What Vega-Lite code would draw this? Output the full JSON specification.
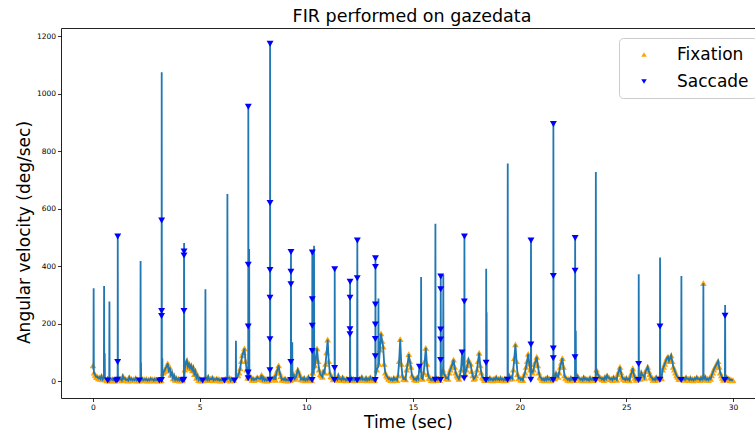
{
"$schema": "https://vega.github.io/schema/vega-lite/v6.json",
"width": 694, "height": 370,
"autosize": {"type": "none"},
"padding": {"left": 61, "top": 28, "right": 0, "bottom": 37},
"background": "white",
"title": {"text": "FIR performed on gazedata", "font": "DejaVu Sans", "fontSize": 17.5, "fontWeight": "normal", "color": "black", "anchor": "middle", "dx": 4, "offset": 3},
"datasets": {"d": [
{"t":0.0,"v":55,"c":"Fixation"},{"t":0.1,"v":22,"c":"Fixation"},{"t":0.2,"v":16,"c":"Fixation"},{"t":0.3,"v":14,"c":"Fixation"},{"t":0.4,"v":18,"c":"Fixation"},{"t":0.5,"v":12,"c":"Fixation"},{"t":0.6,"v":6,"c":"Fixation"},{"t":0.7,"v":9,"c":"Fixation"},{"t":0.8,"v":4,"c":"Fixation"},{"t":0.9,"v":8,"c":"Fixation"},
{"t":1.0,"v":5,"c":"Fixation"},{"t":1.1,"v":7,"c":"Fixation"},{"t":1.2,"v":12,"c":"Fixation"},{"t":1.3,"v":8,"c":"Fixation"},{"t":1.4,"v":18,"c":"Fixation"},{"t":1.5,"v":10,"c":"Fixation"},{"t":1.6,"v":6,"c":"Fixation"},{"t":1.7,"v":14,"c":"Fixation"},{"t":1.8,"v":9,"c":"Fixation"},{"t":1.9,"v":7,"c":"Fixation"},
{"t":2.0,"v":11,"c":"Fixation"},{"t":2.1,"v":6,"c":"Fixation"},{"t":2.2,"v":4,"c":"Fixation"},{"t":2.3,"v":9,"c":"Fixation"},{"t":2.4,"v":7,"c":"Fixation"},{"t":2.5,"v":8,"c":"Fixation"},{"t":2.6,"v":6,"c":"Fixation"},{"t":2.7,"v":9,"c":"Fixation"},{"t":2.8,"v":7,"c":"Fixation"},{"t":2.9,"v":8,"c":"Fixation"},
{"t":3.0,"v":6,"c":"Fixation"},{"t":3.1,"v":5,"c":"Fixation"},{"t":3.2,"v":4,"c":"Fixation"},{"t":3.3,"v":30,"c":"Fixation"},{"t":3.4,"v":45,"c":"Fixation"},{"t":3.5,"v":62,"c":"Fixation"},{"t":3.6,"v":48,"c":"Fixation"},{"t":3.7,"v":30,"c":"Fixation"},{"t":3.8,"v":20,"c":"Fixation"},{"t":3.9,"v":12,"c":"Fixation"},
{"t":4.0,"v":9,"c":"Fixation"},{"t":4.1,"v":6,"c":"Fixation"},{"t":4.2,"v":5,"c":"Fixation"},{"t":4.3,"v":40,"c":"Fixation"},{"t":4.4,"v":72,"c":"Fixation"},{"t":4.5,"v":60,"c":"Fixation"},{"t":4.6,"v":55,"c":"Fixation"},{"t":4.7,"v":48,"c":"Fixation"},{"t":4.8,"v":35,"c":"Fixation"},{"t":4.9,"v":20,"c":"Fixation"},
{"t":5.0,"v":10,"c":"Fixation"},{"t":5.1,"v":5,"c":"Fixation"},{"t":5.2,"v":8,"c":"Fixation"},{"t":5.3,"v":12,"c":"Fixation"},{"t":5.4,"v":16,"c":"Fixation"},{"t":5.5,"v":9,"c":"Fixation"},{"t":5.6,"v":13,"c":"Fixation"},{"t":5.7,"v":7,"c":"Fixation"},{"t":5.8,"v":10,"c":"Fixation"},{"t":5.9,"v":8,"c":"Fixation"},
{"t":6.0,"v":6,"c":"Fixation"},{"t":6.1,"v":5,"c":"Fixation"},{"t":6.2,"v":9,"c":"Fixation"},{"t":6.4,"v":12,"c":"Fixation"},{"t":6.5,"v":8,"c":"Fixation"},{"t":6.6,"v":5,"c":"Fixation"},{"t":6.8,"v":20,"c":"Fixation"},{"t":6.9,"v":45,"c":"Fixation"},
{"t":7.0,"v":90,"c":"Fixation"},{"t":7.1,"v":114,"c":"Fixation"},{"t":7.2,"v":40,"c":"Fixation"},{"t":7.3,"v":20,"c":"Fixation"},{"t":7.4,"v":15,"c":"Fixation"},{"t":7.5,"v":10,"c":"Fixation"},{"t":7.6,"v":8,"c":"Fixation"},{"t":7.7,"v":14,"c":"Fixation"},{"t":7.8,"v":9,"c":"Fixation"},{"t":7.9,"v":22,"c":"Fixation"},
{"t":8.0,"v":12,"c":"Fixation"},{"t":8.1,"v":8,"c":"Fixation"},{"t":8.2,"v":6,"c":"Fixation"},{"t":8.4,"v":10,"c":"Fixation"},{"t":8.5,"v":15,"c":"Fixation"},{"t":8.6,"v":30,"c":"Fixation"},{"t":8.7,"v":55,"c":"Fixation"},{"t":8.8,"v":18,"c":"Fixation"},{"t":8.9,"v":8,"c":"Fixation"},
{"t":9.0,"v":10,"c":"Fixation"},{"t":9.1,"v":6,"c":"Fixation"},{"t":9.2,"v":5,"c":"Fixation"},{"t":9.3,"v":8,"c":"Fixation"},{"t":9.4,"v":25,"c":"Fixation"},{"t":9.5,"v":12,"c":"Fixation"},{"t":9.6,"v":40,"c":"Fixation"},{"t":9.7,"v":20,"c":"Fixation"},{"t":9.8,"v":10,"c":"Fixation"},{"t":9.9,"v":12,"c":"Fixation"},
{"t":10.0,"v":8,"c":"Fixation"},{"t":10.1,"v":15,"c":"Fixation"},{"t":10.2,"v":6,"c":"Fixation"},{"t":10.3,"v":30,"c":"Fixation"},{"t":10.4,"v":55,"c":"Fixation"},{"t":10.5,"v":114,"c":"Fixation"},{"t":10.6,"v":40,"c":"Fixation"},{"t":10.7,"v":20,"c":"Fixation"},{"t":10.8,"v":35,"c":"Fixation"},{"t":10.9,"v":60,"c":"Fixation"},
{"t":11.0,"v":145,"c":"Fixation"},{"t":11.1,"v":30,"c":"Fixation"},{"t":11.2,"v":15,"c":"Fixation"},{"t":11.3,"v":8,"c":"Fixation"},{"t":11.4,"v":10,"c":"Fixation"},{"t":11.5,"v":20,"c":"Fixation"},{"t":11.6,"v":9,"c":"Fixation"},{"t":11.7,"v":14,"c":"Fixation"},{"t":11.8,"v":8,"c":"Fixation"},{"t":11.9,"v":10,"c":"Fixation"},
{"t":12.0,"v":6,"c":"Fixation"},{"t":12.1,"v":12,"c":"Fixation"},{"t":12.2,"v":9,"c":"Fixation"},{"t":12.3,"v":7,"c":"Fixation"},{"t":12.5,"v":10,"c":"Fixation"},{"t":12.6,"v":15,"c":"Fixation"},{"t":12.7,"v":8,"c":"Fixation"},{"t":12.8,"v":12,"c":"Fixation"},{"t":12.9,"v":9,"c":"Fixation"},
{"t":13.0,"v":14,"c":"Fixation"},{"t":13.1,"v":8,"c":"Fixation"},{"t":13.2,"v":5,"c":"Fixation"},{"t":13.3,"v":40,"c":"Fixation"},{"t":13.4,"v":60,"c":"Fixation"},{"t":13.5,"v":166,"c":"Fixation"},{"t":13.6,"v":120,"c":"Fixation"},{"t":13.7,"v":30,"c":"Fixation"},{"t":13.8,"v":15,"c":"Fixation"},{"t":13.9,"v":10,"c":"Fixation"},
{"t":14.0,"v":8,"c":"Fixation"},{"t":14.1,"v":12,"c":"Fixation"},{"t":14.2,"v":9,"c":"Fixation"},{"t":14.3,"v":20,"c":"Fixation"},{"t":14.4,"v":146,"c":"Fixation"},{"t":14.5,"v":20,"c":"Fixation"},{"t":14.6,"v":10,"c":"Fixation"},{"t":14.7,"v":40,"c":"Fixation"},{"t":14.8,"v":94,"c":"Fixation"},{"t":14.9,"v":50,"c":"Fixation"},
{"t":15.0,"v":15,"c":"Fixation"},{"t":15.1,"v":9,"c":"Fixation"},{"t":15.2,"v":14,"c":"Fixation"},{"t":15.3,"v":50,"c":"Saccade"},{"t":15.4,"v":12,"c":"Fixation"},{"t":15.5,"v":30,"c":"Fixation"},{"t":15.6,"v":116,"c":"Fixation"},{"t":15.7,"v":25,"c":"Fixation"},{"t":15.8,"v":10,"c":"Fixation"},{"t":15.9,"v":8,"c":"Fixation"},
{"t":16.0,"v":6,"c":"Fixation"},{"t":16.1,"v":12,"c":"Fixation"},{"t":16.2,"v":9,"c":"Fixation"},{"t":16.4,"v":40,"c":"Fixation"},{"t":16.5,"v":20,"c":"Fixation"},{"t":16.6,"v":12,"c":"Fixation"},{"t":16.7,"v":30,"c":"Fixation"},{"t":16.8,"v":50,"c":"Fixation"},{"t":16.9,"v":75,"c":"Fixation"},
{"t":17.0,"v":30,"c":"Fixation"},{"t":17.1,"v":15,"c":"Fixation"},{"t":17.2,"v":20,"c":"Fixation"},{"t":17.3,"v":100,"c":"Saccade"},{"t":17.5,"v":40,"c":"Fixation"},{"t":17.6,"v":75,"c":"Fixation"},{"t":17.7,"v":60,"c":"Fixation"},{"t":17.8,"v":20,"c":"Fixation"},{"t":17.9,"v":12,"c":"Fixation"},
{"t":18.0,"v":40,"c":"Fixation"},{"t":18.1,"v":99,"c":"Fixation"},{"t":18.2,"v":30,"c":"Fixation"},{"t":18.3,"v":10,"c":"Fixation"},{"t":18.4,"v":6,"c":"Fixation"},{"t":18.5,"v":9,"c":"Fixation"},{"t":18.6,"v":12,"c":"Fixation"},{"t":18.7,"v":8,"c":"Fixation"},{"t":18.8,"v":10,"c":"Fixation"},{"t":18.9,"v":14,"c":"Fixation"},
{"t":19.0,"v":9,"c":"Fixation"},{"t":19.1,"v":12,"c":"Fixation"},{"t":19.2,"v":8,"c":"Fixation"},{"t":19.3,"v":10,"c":"Fixation"},{"t":19.4,"v":6,"c":"Fixation"},{"t":19.5,"v":20,"c":"Fixation"},{"t":19.6,"v":15,"c":"Fixation"},{"t":19.7,"v":40,"c":"Fixation"},{"t":19.8,"v":128,"c":"Fixation"},{"t":19.9,"v":25,"c":"Fixation"},
{"t":20.0,"v":12,"c":"Fixation"},{"t":20.1,"v":9,"c":"Fixation"},{"t":20.2,"v":20,"c":"Fixation"},{"t":20.3,"v":50,"c":"Fixation"},{"t":20.4,"v":95,"c":"Fixation"},{"t":20.5,"v":40,"c":"Fixation"},{"t":20.6,"v":30,"c":"Fixation"},{"t":20.7,"v":60,"c":"Fixation"},{"t":20.8,"v":85,"c":"Fixation"},{"t":20.9,"v":30,"c":"Fixation"},
{"t":21.0,"v":12,"c":"Fixation"},{"t":21.1,"v":8,"c":"Fixation"},{"t":21.2,"v":10,"c":"Fixation"},{"t":21.3,"v":14,"c":"Fixation"},{"t":21.4,"v":9,"c":"Fixation"},{"t":21.5,"v":6,"c":"Fixation"},{"t":21.6,"v":20,"c":"Fixation"},{"t":21.7,"v":30,"c":"Fixation"},{"t":21.8,"v":15,"c":"Fixation"},{"t":21.9,"v":50,"c":"Fixation"},
{"t":22.0,"v":80,"c":"Fixation"},{"t":22.1,"v":20,"c":"Fixation"},{"t":22.2,"v":10,"c":"Fixation"},{"t":22.3,"v":8,"c":"Fixation"},{"t":22.4,"v":12,"c":"Fixation"},{"t":22.5,"v":9,"c":"Fixation"},{"t":22.7,"v":20,"c":"Fixation"},{"t":22.8,"v":10,"c":"Fixation"},{"t":22.9,"v":8,"c":"Fixation"},
{"t":23.0,"v":14,"c":"Fixation"},{"t":23.1,"v":10,"c":"Fixation"},{"t":23.2,"v":8,"c":"Fixation"},{"t":23.3,"v":12,"c":"Fixation"},{"t":23.4,"v":9,"c":"Fixation"},{"t":23.5,"v":6,"c":"Fixation"},{"t":23.6,"v":40,"c":"Fixation"},{"t":23.7,"v":20,"c":"Fixation"},{"t":23.8,"v":12,"c":"Fixation"},{"t":23.9,"v":10,"c":"Fixation"},
{"t":24.0,"v":15,"c":"Fixation"},{"t":24.1,"v":20,"c":"Fixation"},{"t":24.2,"v":12,"c":"Fixation"},{"t":24.3,"v":9,"c":"Fixation"},{"t":24.4,"v":14,"c":"Fixation"},{"t":24.5,"v":10,"c":"Fixation"},{"t":24.6,"v":25,"c":"Fixation"},{"t":24.7,"v":50,"c":"Fixation"},{"t":24.8,"v":15,"c":"Fixation"},{"t":24.9,"v":9,"c":"Fixation"},
{"t":25.0,"v":12,"c":"Fixation"},{"t":25.1,"v":8,"c":"Fixation"},{"t":25.2,"v":20,"c":"Fixation"},{"t":25.3,"v":45,"c":"Fixation"},{"t":25.4,"v":12,"c":"Fixation"},{"t":25.5,"v":6,"c":"Fixation"},{"t":25.6,"v":15,"c":"Fixation"},{"t":25.7,"v":30,"c":"Fixation"},{"t":25.8,"v":20,"c":"Fixation"},{"t":25.9,"v":35,"c":"Fixation"},
{"t":26.0,"v":50,"c":"Fixation"},{"t":26.1,"v":25,"c":"Fixation"},{"t":26.2,"v":12,"c":"Fixation"},{"t":26.3,"v":9,"c":"Fixation"},{"t":26.4,"v":14,"c":"Fixation"},{"t":26.5,"v":8,"c":"Fixation"},{"t":26.6,"v":20,"c":"Fixation"},{"t":26.7,"v":40,"c":"Fixation"},{"t":26.8,"v":60,"c":"Fixation"},{"t":26.9,"v":80,"c":"Fixation"},
{"t":27.0,"v":70,"c":"Fixation"},{"t":27.1,"v":90,"c":"Fixation"},{"t":27.2,"v":50,"c":"Fixation"},{"t":27.3,"v":30,"c":"Fixation"},{"t":27.4,"v":15,"c":"Fixation"},{"t":27.5,"v":8,"c":"Fixation"},{"t":27.6,"v":12,"c":"Fixation"},{"t":27.7,"v":10,"c":"Fixation"},{"t":27.8,"v":14,"c":"Fixation"},{"t":27.9,"v":9,"c":"Fixation"},
{"t":28.0,"v":12,"c":"Fixation"},{"t":28.1,"v":8,"c":"Fixation"},{"t":28.2,"v":10,"c":"Fixation"},{"t":28.3,"v":14,"c":"Fixation"},{"t":28.4,"v":9,"c":"Fixation"},{"t":28.5,"v":12,"c":"Fixation"},{"t":28.7,"v":15,"c":"Fixation"},{"t":28.8,"v":9,"c":"Fixation"},{"t":28.9,"v":12,"c":"Fixation"},
{"t":29.0,"v":20,"c":"Fixation"},{"t":29.1,"v":40,"c":"Fixation"},{"t":29.2,"v":55,"c":"Fixation"},{"t":29.3,"v":70,"c":"Fixation"},{"t":29.4,"v":30,"c":"Fixation"},{"t":29.5,"v":12,"c":"Fixation"},{"t":29.6,"v":8,"c":"Fixation"},{"t":29.7,"v":15,"c":"Fixation"},{"t":29.8,"v":10,"c":"Fixation"},{"t":29.9,"v":6,"c":"Fixation"},{"t":30.0,"v":4,"c":"Fixation"},
{"t":0.05,"v":30,"c":"Fixation"},{"t":0.15,"v":15,"c":"Fixation"},{"t":0.25,"v":10,"c":"Fixation"},{"t":0.35,"v":8,"c":"Fixation"},{"t":0.45,"v":6,"c":"Fixation"},{"t":0.65,"v":3,"c":"Fixation"},{"t":0.75,"v":2,"c":"Fixation"},{"t":0.85,"v":5,"c":"Fixation"},{"t":0.95,"v":3,"c":"Fixation"},
{"t":1.05,"v":2,"c":"Fixation"},{"t":1.25,"v":6,"c":"Fixation"},{"t":1.35,"v":3,"c":"Fixation"},{"t":1.45,"v":8,"c":"Fixation"},{"t":1.55,"v":4,"c":"Fixation"},{"t":1.65,"v":2,"c":"Fixation"},{"t":1.75,"v":5,"c":"Fixation"},{"t":1.85,"v":3,"c":"Fixation"},{"t":1.95,"v":4,"c":"Fixation"},
{"t":2.05,"v":3,"c":"Fixation"},{"t":2.15,"v":2,"c":"Fixation"},{"t":2.35,"v":3,"c":"Fixation"},{"t":2.45,"v":4,"c":"Fixation"},{"t":2.55,"v":2,"c":"Fixation"},{"t":2.65,"v":3,"c":"Fixation"},{"t":2.75,"v":5,"c":"Fixation"},{"t":2.85,"v":2,"c":"Fixation"},{"t":2.95,"v":4,"c":"Fixation"},
{"t":3.05,"v":3,"c":"Fixation"},{"t":3.15,"v":2,"c":"Fixation"},{"t":3.35,"v":35,"c":"Fixation"},{"t":3.45,"v":50,"c":"Fixation"},{"t":3.55,"v":38,"c":"Fixation"},{"t":3.65,"v":22,"c":"Fixation"},{"t":3.75,"v":10,"c":"Fixation"},{"t":3.85,"v":5,"c":"Fixation"},{"t":3.95,"v":4,"c":"Fixation"},
{"t":4.05,"v":2,"c":"Fixation"},{"t":4.15,"v":3,"c":"Fixation"},{"t":4.35,"v":62,"c":"Fixation"},{"t":4.45,"v":50,"c":"Fixation"},{"t":4.55,"v":45,"c":"Fixation"},{"t":4.65,"v":38,"c":"Fixation"},{"t":4.75,"v":25,"c":"Fixation"},{"t":4.85,"v":12,"c":"Fixation"},{"t":4.95,"v":4,"c":"Fixation"},
{"t":5.05,"v":2,"c":"Fixation"},{"t":5.15,"v":3,"c":"Fixation"},{"t":5.35,"v":5,"c":"Fixation"},{"t":5.45,"v":4,"c":"Fixation"},{"t":5.55,"v":7,"c":"Fixation"},{"t":5.65,"v":3,"c":"Fixation"},{"t":5.75,"v":5,"c":"Fixation"},{"t":5.85,"v":4,"c":"Fixation"},{"t":5.95,"v":2,"c":"Fixation"},
{"t":6.05,"v":3,"c":"Fixation"},{"t":6.25,"v":5,"c":"Fixation"},{"t":6.45,"v":2,"c":"Fixation"},{"t":6.55,"v":4,"c":"Fixation"},{"t":6.85,"v":30,"c":"Fixation"},{"t":6.95,"v":70,"c":"Fixation"},
{"t":7.05,"v":100,"c":"Fixation"},{"t":7.15,"v":70,"c":"Fixation"},{"t":7.25,"v":12,"c":"Fixation"},{"t":7.45,"v":5,"c":"Fixation"},{"t":7.55,"v":4,"c":"Fixation"},{"t":7.65,"v":6,"c":"Fixation"},{"t":7.75,"v":10,"c":"Fixation"},{"t":7.85,"v":8,"c":"Fixation"},{"t":7.95,"v":5,"c":"Fixation"},
{"t":8.05,"v":3,"c":"Fixation"},{"t":8.15,"v":2,"c":"Fixation"},{"t":8.25,"v":4,"c":"Fixation"},{"t":8.45,"v":8,"c":"Fixation"},{"t":8.55,"v":5,"c":"Fixation"},{"t":8.65,"v":40,"c":"Fixation"},{"t":8.75,"v":30,"c":"Fixation"},{"t":8.85,"v":5,"c":"Fixation"},{"t":8.95,"v":4,"c":"Fixation"},
{"t":9.05,"v":3,"c":"Fixation"},{"t":9.15,"v":2,"c":"Fixation"},{"t":9.25,"v":4,"c":"Fixation"},{"t":9.45,"v":8,"c":"Fixation"},{"t":9.55,"v":25,"c":"Fixation"},{"t":9.65,"v":30,"c":"Fixation"},{"t":9.75,"v":6,"c":"Fixation"},{"t":9.85,"v":5,"c":"Fixation"},{"t":9.95,"v":3,"c":"Fixation"},
{"t":10.05,"v":4,"c":"Fixation"},{"t":10.15,"v":5,"c":"Fixation"},{"t":10.25,"v":3,"c":"Fixation"},{"t":10.45,"v":80,"c":"Fixation"},{"t":10.55,"v":70,"c":"Fixation"},{"t":10.65,"v":25,"c":"Fixation"},{"t":10.75,"v":15,"c":"Fixation"},{"t":10.85,"v":30,"c":"Fixation"},{"t":10.95,"v":100,"c":"Fixation"},
{"t":11.05,"v":70,"c":"Fixation"},{"t":11.15,"v":18,"c":"Fixation"},{"t":11.25,"v":6,"c":"Fixation"},{"t":11.45,"v":5,"c":"Fixation"},{"t":11.55,"v":8,"c":"Fixation"},{"t":11.65,"v":4,"c":"Fixation"},{"t":11.75,"v":6,"c":"Fixation"},{"t":11.85,"v":3,"c":"Fixation"},{"t":11.95,"v":4,"c":"Fixation"},
{"t":12.15,"v":4,"c":"Fixation"},{"t":12.25,"v":3,"c":"Fixation"},{"t":12.35,"v":5,"c":"Fixation"},{"t":12.45,"v":4,"c":"Fixation"},{"t":12.55,"v":6,"c":"Fixation"},{"t":12.65,"v":5,"c":"Fixation"},{"t":12.75,"v":4,"c":"Fixation"},{"t":12.85,"v":3,"c":"Fixation"},{"t":12.95,"v":5,"c":"Fixation"},
{"t":13.05,"v":6,"c":"Fixation"},{"t":13.15,"v":3,"c":"Fixation"},{"t":13.45,"v":110,"c":"Fixation"},{"t":13.55,"v":140,"c":"Fixation"},{"t":13.65,"v":60,"c":"Fixation"},{"t":13.75,"v":20,"c":"Fixation"},{"t":13.85,"v":8,"c":"Fixation"},{"t":13.95,"v":4,"c":"Fixation"},
{"t":14.05,"v":3,"c":"Fixation"},{"t":14.15,"v":5,"c":"Fixation"},{"t":14.25,"v":4,"c":"Fixation"},{"t":14.35,"v":70,"c":"Fixation"},{"t":14.45,"v":60,"c":"Fixation"},{"t":14.55,"v":8,"c":"Fixation"},{"t":14.65,"v":6,"c":"Fixation"},{"t":14.75,"v":60,"c":"Fixation"},{"t":14.85,"v":70,"c":"Fixation"},{"t":14.95,"v":20,"c":"Fixation"},
{"t":15.05,"v":6,"c":"Fixation"},{"t":15.15,"v":4,"c":"Fixation"},{"t":15.25,"v":8,"c":"Fixation"},{"t":15.45,"v":8,"c":"Fixation"},{"t":15.55,"v":70,"c":"Fixation"},{"t":15.65,"v":60,"c":"Fixation"},{"t":15.75,"v":12,"c":"Fixation"},{"t":15.85,"v":4,"c":"Fixation"},{"t":15.95,"v":3,"c":"Fixation"},
{"t":16.15,"v":5,"c":"Fixation"},{"t":16.25,"v":4,"c":"Fixation"},{"t":16.45,"v":25,"c":"Fixation"},{"t":16.55,"v":10,"c":"Fixation"},{"t":16.65,"v":8,"c":"Fixation"},{"t":16.75,"v":40,"c":"Fixation"},{"t":16.85,"v":60,"c":"Fixation"},{"t":16.95,"v":50,"c":"Fixation"},
{"t":17.05,"v":20,"c":"Fixation"},{"t":17.15,"v":8,"c":"Fixation"},{"t":17.25,"v":40,"c":"Fixation"},{"t":17.45,"v":25,"c":"Fixation"},{"t":17.55,"v":55,"c":"Fixation"},{"t":17.65,"v":65,"c":"Fixation"},{"t":17.75,"v":35,"c":"Fixation"},{"t":17.85,"v":8,"c":"Fixation"},{"t":17.95,"v":20,"c":"Fixation"},
{"t":18.05,"v":70,"c":"Fixation"},{"t":18.15,"v":55,"c":"Fixation"},{"t":18.25,"v":15,"c":"Fixation"},{"t":18.35,"v":4,"c":"Fixation"},{"t":18.55,"v":4,"c":"Fixation"},{"t":18.65,"v":5,"c":"Fixation"},{"t":18.75,"v":3,"c":"Fixation"},{"t":18.85,"v":5,"c":"Fixation"},{"t":18.95,"v":6,"c":"Fixation"},
{"t":19.05,"v":4,"c":"Fixation"},{"t":19.15,"v":5,"c":"Fixation"},{"t":19.25,"v":3,"c":"Fixation"},{"t":19.35,"v":4,"c":"Fixation"},{"t":19.55,"v":8,"c":"Fixation"},{"t":19.65,"v":10,"c":"Fixation"},{"t":19.75,"v":80,"c":"Fixation"},{"t":19.85,"v":70,"c":"Fixation"},{"t":19.95,"v":10,"c":"Fixation"},
{"t":20.05,"v":5,"c":"Fixation"},{"t":20.15,"v":4,"c":"Fixation"},{"t":20.25,"v":30,"c":"Fixation"},{"t":20.35,"v":70,"c":"Fixation"},{"t":20.45,"v":60,"c":"Fixation"},{"t":20.65,"v":40,"c":"Fixation"},{"t":20.75,"v":70,"c":"Fixation"},{"t":20.85,"v":55,"c":"Fixation"},{"t":20.95,"v":15,"c":"Fixation"},
{"t":21.05,"v":5,"c":"Fixation"},{"t":21.15,"v":3,"c":"Fixation"},{"t":21.25,"v":4,"c":"Fixation"},{"t":21.35,"v":6,"c":"Fixation"},{"t":21.45,"v":3,"c":"Fixation"},{"t":21.65,"v":10,"c":"Fixation"},{"t":21.75,"v":18,"c":"Fixation"},{"t":21.85,"v":30,"c":"Fixation"},{"t":21.95,"v":65,"c":"Fixation"},
{"t":22.05,"v":50,"c":"Fixation"},{"t":22.15,"v":12,"c":"Fixation"},{"t":22.25,"v":5,"c":"Fixation"},{"t":22.35,"v":3,"c":"Fixation"},{"t":22.45,"v":5,"c":"Fixation"},{"t":22.55,"v":4,"c":"Fixation"},{"t":22.75,"v":12,"c":"Fixation"},{"t":22.85,"v":5,"c":"Fixation"},{"t":22.95,"v":3,"c":"Fixation"},
{"t":23.05,"v":6,"c":"Fixation"},{"t":23.15,"v":4,"c":"Fixation"},{"t":23.25,"v":3,"c":"Fixation"},{"t":23.35,"v":5,"c":"Fixation"},{"t":23.45,"v":4,"c":"Fixation"},{"t":23.65,"v":25,"c":"Fixation"},{"t":23.75,"v":12,"c":"Fixation"},{"t":23.85,"v":6,"c":"Fixation"},{"t":23.95,"v":4,"c":"Fixation"},
{"t":24.05,"v":8,"c":"Fixation"},{"t":24.15,"v":12,"c":"Fixation"},{"t":24.25,"v":6,"c":"Fixation"},{"t":24.35,"v":4,"c":"Fixation"},{"t":24.45,"v":8,"c":"Fixation"},{"t":24.55,"v":5,"c":"Fixation"},{"t":24.65,"v":35,"c":"Fixation"},{"t":24.75,"v":30,"c":"Fixation"},{"t":24.85,"v":8,"c":"Fixation"},{"t":24.95,"v":4,"c":"Fixation"},
{"t":25.05,"v":5,"c":"Fixation"},{"t":25.15,"v":3,"c":"Fixation"},{"t":25.25,"v":30,"c":"Fixation"},{"t":25.35,"v":25,"c":"Fixation"},{"t":25.45,"v":5,"c":"Fixation"},{"t":25.65,"v":8,"c":"Fixation"},{"t":25.75,"v":20,"c":"Fixation"},{"t":25.85,"v":12,"c":"Fixation"},{"t":25.95,"v":40,"c":"Fixation"},
{"t":26.05,"v":35,"c":"Fixation"},{"t":26.15,"v":15,"c":"Fixation"},{"t":26.25,"v":5,"c":"Fixation"},{"t":26.35,"v":4,"c":"Fixation"},{"t":26.45,"v":6,"c":"Fixation"},{"t":26.65,"v":10,"c":"Fixation"},{"t":26.75,"v":50,"c":"Fixation"},{"t":26.85,"v":70,"c":"Fixation"},{"t":26.95,"v":85,"c":"Fixation"},
{"t":27.05,"v":80,"c":"Fixation"},{"t":27.15,"v":70,"c":"Fixation"},{"t":27.25,"v":40,"c":"Fixation"},{"t":27.35,"v":20,"c":"Fixation"},{"t":27.45,"v":8,"c":"Fixation"},{"t":27.65,"v":6,"c":"Fixation"},{"t":27.75,"v":5,"c":"Fixation"},{"t":27.85,"v":8,"c":"Fixation"},{"t":27.95,"v":4,"c":"Fixation"},
{"t":28.05,"v":5,"c":"Fixation"},{"t":28.15,"v":3,"c":"Fixation"},{"t":28.25,"v":6,"c":"Fixation"},{"t":28.35,"v":8,"c":"Fixation"},{"t":28.45,"v":4,"c":"Fixation"},{"t":28.55,"v":6,"c":"Fixation"},{"t":28.65,"v":8,"c":"Fixation"},{"t":28.75,"v":5,"c":"Fixation"},{"t":28.85,"v":4,"c":"Fixation"},{"t":28.95,"v":8,"c":"Fixation"},
{"t":29.05,"v":30,"c":"Fixation"},{"t":29.15,"v":48,"c":"Fixation"},{"t":29.25,"v":62,"c":"Fixation"},{"t":29.35,"v":50,"c":"Fixation"},{"t":29.45,"v":20,"c":"Fixation"},{"t":29.55,"v":5,"c":"Fixation"},{"t":29.75,"v":8,"c":"Fixation"},{"t":29.85,"v":4,"c":"Fixation"},{"t":29.95,"v":3,"c":"Fixation"},
{"t":0.02,"v":40,"c":"N"},{"t":0.03,"v":323,"c":"N"},{"t":0.04,"v":30,"c":"N"},
{"t":0.51,"v":12,"c":"N"},{"t":0.52,"v":331,"c":"N"},{"t":0.53,"v":15,"c":"N"},{"t":0.54,"v":14,"c":"N"},{"t":0.55,"v":97,"c":"N"},{"t":0.56,"v":10,"c":"N"},
{"t":0.69,"v":2,"c":"Saccade"},{"t":0.76,"v":8,"c":"N"},{"t":0.77,"v":277,"c":"N"},{"t":0.78,"v":6,"c":"N"},
{"t":1.08,"v":2,"c":"Saccade"},{"t":1.15,"v":5,"c":"Saccade"},{"t":1.156,"v":67,"c":"Saccade"},{"t":1.16,"v":503,"c":"Saccade"},{"t":1.17,"v":5,"c":"N"},
{"t":2.17,"v":2,"c":"Saccade"},{"t":2.22,"v":5,"c":"N"},{"t":2.23,"v":418,"c":"N"},{"t":2.24,"v":6,"c":"N"},{"t":2.25,"v":65,"c":"N"},{"t":2.26,"v":5,"c":"N"},
{"t":3.11,"v":2,"c":"Saccade"},{"t":3.21,"v":4,"c":"Saccade"},{"t":3.214,"v":227,"c":"Saccade"},{"t":3.216,"v":244,"c":"Saccade"},{"t":3.218,"v":559,"c":"Saccade"},{"t":3.22,"v":1075,"c":"N"},{"t":3.23,"v":6,"c":"N"},{"t":3.24,"v":5,"c":"N"},{"t":3.25,"v":80,"c":"N"},{"t":3.26,"v":10,"c":"N"},
{"t":4.19,"v":3,"c":"Saccade"},{"t":4.26,"v":5,"c":"Saccade"},{"t":4.264,"v":244,"c":"Saccade"},{"t":4.266,"v":437,"c":"Saccade"},{"t":4.268,"v":451,"c":"Saccade"},{"t":4.27,"v":481,"c":"N"},{"t":4.28,"v":10,"c":"N"},
{"t":5.14,"v":2,"c":"Saccade"},{"t":5.26,"v":6,"c":"N"},{"t":5.27,"v":320,"c":"N"},{"t":5.28,"v":8,"c":"N"},
{"t":6.16,"v":2,"c":"Saccade"},{"t":6.29,"v":6,"c":"N"},{"t":6.3,"v":651,"c":"N"},{"t":6.31,"v":8,"c":"N"},
{"t":6.63,"v":2,"c":"Saccade"},{"t":6.69,"v":5,"c":"N"},{"t":6.7,"v":141,"c":"N"},{"t":6.71,"v":6,"c":"N"},
{"t":7.27,"v":10,"c":"Saccade"},{"t":7.274,"v":30,"c":"Saccade"},{"t":7.276,"v":190,"c":"Saccade"},{"t":7.278,"v":405,"c":"Saccade"},{"t":7.28,"v":955,"c":"Saccade"},{"t":7.29,"v":12,"c":"N"},{"t":7.31,"v":10,"c":"N"},{"t":7.32,"v":460,"c":"N"},{"t":7.33,"v":15,"c":"N"},
{"t":8.29,"v":5,"c":"Saccade"},{"t":8.292,"v":38,"c":"Saccade"},{"t":8.294,"v":146,"c":"Saccade"},{"t":8.296,"v":290,"c":"Saccade"},{"t":8.297,"v":387,"c":"Saccade"},{"t":8.298,"v":620,"c":"Saccade"},{"t":8.3,"v":1174,"c":"Saccade"},{"t":8.31,"v":8,"c":"N"},
{"t":9.27,"v":4,"c":"Saccade"},{"t":9.274,"v":67,"c":"Saccade"},{"t":9.276,"v":337,"c":"Saccade"},{"t":9.278,"v":381,"c":"Saccade"},{"t":9.28,"v":449,"c":"Saccade"},{"t":9.29,"v":6,"c":"N"},{"t":9.33,"v":10,"c":"N"},{"t":9.34,"v":135,"c":"N"},{"t":9.35,"v":12,"c":"N"},
{"t":10.27,"v":4,"c":"Saccade"},{"t":10.274,"v":105,"c":"Saccade"},{"t":10.276,"v":193,"c":"Saccade"},{"t":10.278,"v":285,"c":"Saccade"},{"t":10.28,"v":448,"c":"Saccade"},{"t":10.29,"v":10,"c":"N"},{"t":10.35,"v":30,"c":"N"},{"t":10.36,"v":471,"c":"N"},{"t":10.37,"v":40,"c":"N"},
{"t":11.32,"v":4,"c":"Saccade"},{"t":11.326,"v":46,"c":"Saccade"},{"t":11.33,"v":389,"c":"Saccade"},{"t":11.34,"v":6,"c":"N"},
{"t":12.04,"v":3,"c":"Saccade"},{"t":12.044,"v":163,"c":"Saccade"},{"t":12.046,"v":181,"c":"Saccade"},{"t":12.048,"v":290,"c":"Saccade"},{"t":12.05,"v":346,"c":"Saccade"},{"t":12.06,"v":8,"c":"N"},
{"t":12.38,"v":3,"c":"Saccade"},{"t":12.386,"v":358,"c":"Saccade"},{"t":12.39,"v":489,"c":"Saccade"},{"t":12.4,"v":9,"c":"N"},
{"t":13.23,"v":4,"c":"Saccade"},{"t":13.232,"v":87,"c":"Saccade"},{"t":13.234,"v":147,"c":"Saccade"},{"t":13.236,"v":197,"c":"Saccade"},{"t":13.238,"v":267,"c":"Saccade"},{"t":13.239,"v":397,"c":"Saccade"},{"t":13.24,"v":428,"c":"Saccade"},{"t":13.25,"v":20,"c":"N"},{"t":13.37,"v":50,"c":"N"},{"t":13.38,"v":288,"c":"N"},{"t":13.39,"v":60,"c":"N"},
{"t":15.37,"v":30,"c":"N"},{"t":15.38,"v":362,"c":"N"},{"t":15.39,"v":15,"c":"N"},
{"t":16.04,"v":5,"c":"Saccade"},{"t":16.05,"v":548,"c":"N"},{"t":16.06,"v":8,"c":"N"},
{"t":16.29,"v":4,"c":"Saccade"},{"t":16.292,"v":74,"c":"Saccade"},{"t":16.294,"v":145,"c":"Saccade"},{"t":16.296,"v":180,"c":"Saccade"},{"t":16.298,"v":320,"c":"Saccade"},{"t":16.3,"v":364,"c":"Saccade"},{"t":16.31,"v":10,"c":"N"},{"t":16.41,"v":30,"c":"N"},{"t":16.42,"v":370,"c":"N"},{"t":16.43,"v":35,"c":"N"},
{"t":17.4,"v":10,"c":"Saccade"},{"t":17.406,"v":277,"c":"Saccade"},{"t":17.41,"v":503,"c":"Saccade"},{"t":17.42,"v":20,"c":"N"},
{"t":18.42,"v":4,"c":"Saccade"},{"t":18.426,"v":64,"c":"Saccade"},{"t":18.43,"v":391,"c":"N"},{"t":18.44,"v":10,"c":"N"},{"t":18.45,"v":240,"c":"N"},{"t":18.46,"v":10,"c":"N"},
{"t":19.43,"v":5,"c":"Saccade"},{"t":19.44,"v":757,"c":"N"},{"t":19.45,"v":10,"c":"N"},
{"t":20.52,"v":5,"c":"Saccade"},{"t":20.526,"v":128,"c":"Saccade"},{"t":20.53,"v":489,"c":"Saccade"},{"t":20.54,"v":30,"c":"N"},
{"t":21.57,"v":4,"c":"Saccade"},{"t":21.574,"v":80,"c":"Saccade"},{"t":21.576,"v":114,"c":"Saccade"},{"t":21.578,"v":366,"c":"Saccade"},{"t":21.58,"v":895,"c":"Saccade"},{"t":21.59,"v":15,"c":"N"},
{"t":22.59,"v":4,"c":"Saccade"},{"t":22.594,"v":83,"c":"Saccade"},{"t":22.596,"v":384,"c":"Saccade"},{"t":22.6,"v":498,"c":"Saccade"},{"t":22.61,"v":12,"c":"N"},{"t":22.62,"v":15,"c":"N"},{"t":22.63,"v":175,"c":"N"},{"t":22.64,"v":18,"c":"N"},
{"t":23.56,"v":4,"c":"Saccade"},{"t":23.57,"v":728,"c":"N"},{"t":23.58,"v":20,"c":"N"},
{"t":25.57,"v":4,"c":"Saccade"},{"t":25.576,"v":60,"c":"Saccade"},{"t":25.58,"v":372,"c":"N"},{"t":25.59,"v":10,"c":"N"},
{"t":26.57,"v":5,"c":"Saccade"},{"t":26.576,"v":190,"c":"Saccade"},{"t":26.58,"v":430,"c":"N"},{"t":26.59,"v":15,"c":"N"},
{"t":27.57,"v":4,"c":"Saccade"},{"t":27.58,"v":366,"c":"N"},{"t":27.59,"v":10,"c":"N"},
{"t":28.6,"v":15,"c":"Fixation"},{"t":28.61,"v":341,"c":"Fixation"},{"t":28.62,"v":20,"c":"Fixation"},
{"t":29.62,"v":4,"c":"Saccade"},{"t":29.626,"v":228,"c":"Saccade"},{"t":29.63,"v":265,"c":"N"},{"t":29.64,"v":10,"c":"N"}
]},
"data": {"name": "d"},
"encoding": {
  "x": {"field": "t", "type": "quantitative", "scale": {"domain": [-1.5, 31.03], "nice": false, "zero": false}, "axis": {"title": "Time (sec)", "values": [0, 5, 10, 15, 20, 25, 30]}},
  "y": {"field": "v", "type": "quantitative", "scale": {"domain": [-58.5, 1228.5], "nice": false, "zero": false}, "axis": {"title": "Angular velocity (deg/sec)", "values": [0, 200, 400, 600, 800, 1000, 1200], "format": "d", "titleY": 204}}
},
"layer": [
  {"transform": [{"filter": "datum.c == 'Fixation'"}],
   "mark": {"type": "point", "filled": true, "size": 45, "opacity": 1},
   "encoding": {
     "color": {"field": "c", "type": "nominal", "scale": {"domain": ["Fixation", "Saccade"], "range": ["#ffa500", "#0000ff"]}, "legend": {"title": null}},
     "shape": {"field": "c", "type": "nominal", "scale": {"domain": ["Fixation", "Saccade"], "range": ["triangle-up", "triangle-down"]}, "legend": {"title": null}}
   }},
  {"mark": {"type": "line", "color": "#1f77b4", "strokeWidth": 1.8}, "encoding": {}},
  {"transform": [{"filter": "datum.c == 'Saccade'"}],
   "mark": {"type": "point", "filled": true, "size": 48, "opacity": 1},
   "encoding": {
     "color": {"field": "c", "type": "nominal", "scale": {"domain": ["Fixation", "Saccade"], "range": ["#ffa500", "#0000ff"]}, "legend": {"title": null}},
     "shape": {"field": "c", "type": "nominal", "scale": {"domain": ["Fixation", "Saccade"], "range": ["triangle-up", "triangle-down"]}, "legend": {"title": null}}
   }}
],
"config": {
  "view": {"stroke": "#222", "strokeWidth": 1},
  "axis": {"labelFont": "DejaVu Sans", "titleFont": "DejaVu Sans", "labelFontSize": 7.5, "labelColor": "#000", "titleFontSize": 17, "titleFontWeight": "normal", "titleColor": "#000", "grid": false, "domain": false, "tickColor": "#000", "tickSize": 3.5, "tickWidth": 0.8, "labelPadding": 2},
  "axisX": {"titlePadding": 3},
  "axisY": {"titlePadding": 3},
  "legend": {"orient": "none", "legendX": 558, "legendY": 10, "labelFont": "DejaVu Sans", "labelFontSize": 17, "labelColor": "#000", "symbolSize": 30, "symbolOffset": 8.5, "labelOffset": 24.5, "padding": 8, "rowPadding": 9, "strokeColor": "#cccccc", "fillColor": "white", "cornerRadius": 4, "symbolStrokeWidth": 0}
}
}
